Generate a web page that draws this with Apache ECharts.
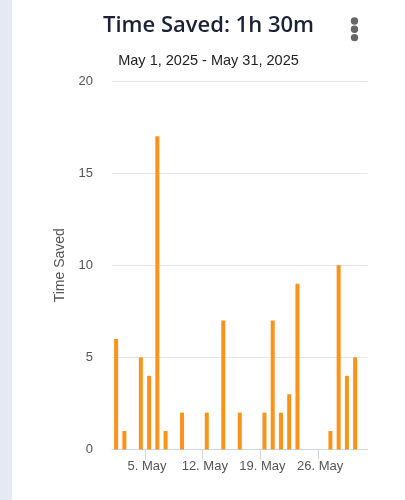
<!DOCTYPE html>
<html>
<head>
<meta charset="utf-8">
<script src="https://cdn.jsdelivr.net/npm/echarts@6/dist/echarts.min.js"></script>
<style>
  html, body {
    margin: 0;
    padding: 0;
    width: 405px;
    height: 500px;
    background: #e6e9f2;
    overflow: hidden;
  }
  #time-saved-chart {
    position: absolute;
    left: 12px;
    top: 0;
    width: 393px;
    height: 500px;
    background: #ffffff;
  }
</style>
</head>
<body>
<div id="time-saved-chart"></div>
<script>
// one category per day of May 2025
const days = [];
for (let d = 1; d <= 31; d++) days.push(d + ". May");

// time saved per day (0 = no bar)
const timeSaved = [6, 1, 0, 5, 4, 17, 1, 0, 2, 0, 0, 2, 0, 7, 0, 2, 0, 0, 2, 7,
  2, 3, 9, 0, 0, 0, 1, 10, 4, 5, 0];

// days that get a label on the x axis, and where their ticks sit (day boundaries)
const labelDays = [4, 11, 18, 25];
const tickDays = [4, 11, 18, 25];
const yTicks = [0, 5, 10, 15, 20];

const chart = echarts.init(document.getElementById("time-saved-chart"));

const option = {
  animation: false,
  title: [
    {
      text: "Time Saved: 1h 30m",
      left: "center",
      top: 10,
      textStyle: {
        fontFamily: "Open Sans",
        fontSize: 22,
        fontWeight: 600,
        color: "#1b2236",
      },
    },
    {
      text: "May 1, 2025 - May 31, 2025",
      left: "center",
      top: 48,
      textStyle: {
        fontFamily: "Liberation Sans",
        fontSize: 14.5,
        fontWeight: "normal",
        color: "#222",
      },
    },
  ],
  // menu button (three dots)
  graphic: [
    { type: "circle", shape: { cx: 342.5, cy: 21, r: 3.7 }, style: { fill: "#666" } },
    { type: "circle", shape: { cx: 342.5, cy: 29.3, r: 3.7 }, style: { fill: "#666" } },
    { type: "circle", shape: { cx: 342.5, cy: 37.6, r: 3.7 }, style: { fill: "#666" } },
  ],
  grid: {
    left: 100,
    right: 37.5,
    top: 81,
    bottom: 50.5,
  },
  xAxis: [
    {
      type: "category",
      data: days,
      boundaryGap: true,
      axisLine: { lineStyle: { color: "#ccd6eb", width: 1 } },
      axisTick: { show: false },
      axisLabel: {
        interval: (idx) => labelDays.includes(idx),
        margin: 10,
        padding: [0, 4, 0, 0],
        fontFamily: "Liberation Sans",
        fontSize: 13,
        color: "#555",
      },
    },
    {
      // helper axis only for the tick marks between days
      type: "value",
      position: "bottom",
      min: 0,
      max: days.length,
      axisLine: { show: false },
      axisLabel: { show: false },
      splitLine: { show: false },
      axisTick: {
        show: true,
        length: 10,
        customValues: tickDays,
        lineStyle: { color: "#ccd6eb" },
      },
    },
  ],
  yAxis: {
    type: "value",
    min: yTicks[0],
    max: yTicks[yTicks.length - 1],
    interval: 5,
    name: "Time Saved",
    nameLocation: "middle",
    nameGap: 44,
    nameTextStyle: {
      fontFamily: "Liberation Sans",
      fontSize: 14,
      color: "#555",
    },
    axisLine: { show: false },
    axisTick: { show: false },
    axisLabel: {
      margin: 19,
      fontFamily: "Liberation Sans",
      fontSize: 13,
      color: "#555",
    },
    splitLine: { lineStyle: { color: "#e6e6e6", width: 1 } },
  },
  series: [
    {
      name: "Time Saved",
      type: "bar",
      xAxisIndex: 0,
      data: timeSaved,
      barWidth: 4,
      itemStyle: { color: "#fb9219" },
    },
  ],
};

chart.setOption(option);
</script>
</body>
</html>
